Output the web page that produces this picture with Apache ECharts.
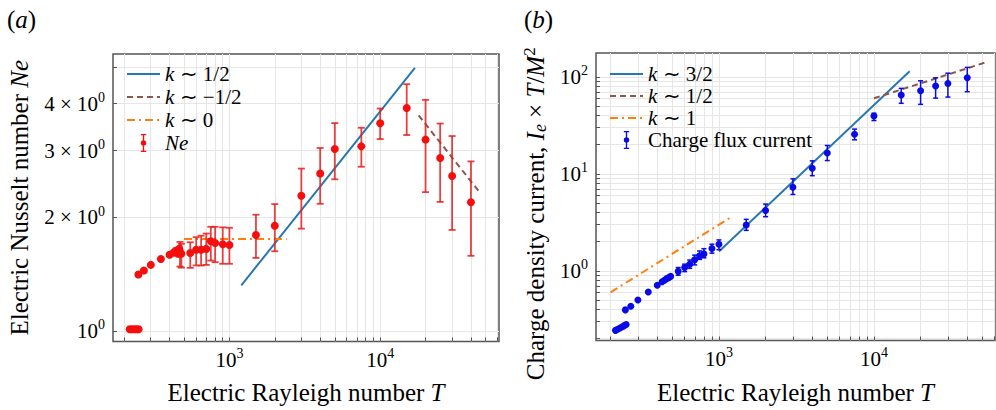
<!DOCTYPE html>
<html><head><meta charset="utf-8">
<script src="https://cdn.jsdelivr.net/npm/echarts@6/dist/echarts.min.js"></script>
<style>html,body{margin:0;padding:0;background:#fff}#c{width:996px;height:410px}</style>
</head><body><div id="c"></div>
<script>
// ---------------- data ----------------
// (a) Electric Nusselt number
const leftPlainT  = [218, 226, 234, 242, 250, 249, 271, 301, 351, 401, 425, 440, 455, 465];
const leftPlainNe = [1.01, 1.01, 1.01, 1.01, 1.01, 1.41, 1.445, 1.495, 1.55, 1.59, 1.61, 1.63, 1.60, 1.65];
const leftErrT  = [470, 480, 550, 602, 649, 702, 753, 804, 903, 1000, 1500, 2000, 3000, 4000, 5000, 7500, 10000, 15000, 20000, 25000, 30000, 40000];
const leftErrNe = [1.62, 1.60, 1.608, 1.64, 1.64, 1.648, 1.727, 1.709, 1.695, 1.688, 1.794, 1.898, 2.28, 2.61, 3.03, 3.08, 3.545, 3.89, 3.21, 2.87, 2.57, 2.19];
const leftErrLo = [1.48, 1.47, 1.468, 1.49, 1.489, 1.495, 1.535, 1.52, 1.505, 1.505, 1.56, 1.625, 1.865, 2.17, 2.52, 2.72, 3.22, 3.30, 2.33, 2.195, 1.85, 1.58];
const leftErrHi = [1.72, 1.70, 1.716, 1.77, 1.786, 1.81, 1.886, 1.886, 1.88, 1.875, 2.03, 2.166, 2.69, 3.05, 3.55, 3.45, 3.88, 4.50, 4.09, 3.54, 3.28, 2.81];
const leftFitHalfT  = [1200, 17000];  const leftFitHalfY  = [1.32, 4.97];   // k ~ 1/2
const leftFitNegT   = [18000, 46000]; const leftFitNegY   = [3.72, 2.32];   // k ~ -1/2
const leftFitZeroT  = [500, 2400];    const leftFitZeroY  = [1.75, 1.75];   // k ~ 0
const leftLegend = ['{it|k}{b| ∼ 1/2}', '{it|k}{b| ∼ −1/2}', '{it|k}{b| ∼ 0}', '{it|Ne}'];
const leftYTickVals = [1, 2, 3, 4];
const leftYTickLabels = ['{b|10}{sup|0}', '{b|2 × 10}{sup|0}', '{b|3 × 10}{sup|0}', '{b|4 × 10}{sup|0}'];
const leftYGrid = [1, 2, 3, 4, 5];

// (b) Charge density current
const rightPlainT = [215, 222, 230, 238, 245, 252, 249, 270, 300, 350, 400, 430, 445, 460, 475, 488];
const rightPlainI = [0.243, 0.25, 0.257, 0.265, 0.272, 0.279, 0.395, 0.431, 0.50, 0.605, 0.708, 0.77, 0.80, 0.83, 0.85, 0.875];
const rightErrT  = [546, 601, 648, 697, 750, 800, 901, 1000, 1500, 2000, 3000, 4000, 5000, 7500, 10000, 15000, 20000, 25000, 30000, 40000];
const rightErrI  = [0.986, 1.083, 1.17, 1.296, 1.425, 1.494, 1.70, 1.88, 2.96, 4.19, 7.27, 11.4, 16.4, 25.6, 39.5, 64.9, 71.8, 80.3, 85.5, 97.7];
const rightErrLo = [0.90, 0.98, 1.06, 1.15, 1.31, 1.36, 1.52, 1.65, 2.61, 3.61, 6.12, 9.56, 13.7, 22.4, 35.4, 53.3, 52, 60.3, 61.8, 70.2];
const rightErrHi = [1.08, 1.17, 1.29, 1.45, 1.60, 1.69, 1.88, 2.08, 3.39, 4.87, 8.87, 13.6, 19.6, 28.9, 42.1, 76, 91, 97.7, 109, 125];
const rightFit32T = [1000, 17000];  const rightFit32Y = [1.58, 114];   // k ~ 3/2
const rightFit12T = [10000, 52000]; const rightFit12Y = [60, 140];     // k ~ 1/2
const rightFit1T  = [200, 1200];    const rightFit1Y  = [0.6, 3.58];   // k ~ 1
const rightLegend = ['{it|k}{b| ∼ 3/2}', '{it|k}{b| ∼ 1/2}', '{it|k}{b| ∼ 1}', '{b|Charge flux current}'];
const rightYTickVals = [1, 10, 100];
const rightYGrid = [0.2,0.3,0.4,0.5,0.6,0.7,0.8,0.9,1,2,3,4,5,6,7,8,9,10,20,30,40,50,60,70,80,90,100];

const xTickVals = [1000, 10000];
const xGrid = [200,300,400,500,600,700,800,900,1000,2000,3000,4000,5000,6000,7000,8000,9000,10000,20000,30000,40000,50000,60000];

// ---------------- styling ----------------
const FF = 'Liberation Serif';
const C_BLUE = '#2878b0', C_BROWN = '#8c564b', C_ORANGE = '#ff7f0e';
const C_RED = '#f40e0e', C_REDBAR = 'rgba(232,30,30,0.85)', C_PBLUE = '#0a0ae6';
const GRIDC = '#e6e6e6';
const DASH = [6, 4], DASHDOT = [8, 4, 2, 4];

function richFor(size, lh) {
  return {
    b: {fontFamily: FF, fontSize: size, lineHeight: lh, color: '#000'},
    sup: {fontFamily: FF, fontSize: Math.round(size * 0.68), lineHeight: 12, verticalAlign: 'top', color: '#000'},
    sub: {fontFamily: FF, fontStyle: 'italic', fontSize: Math.round(size * 0.7), lineHeight: 12, verticalAlign: 'bottom', color: '#000'},
    it: {fontFamily: FF, fontStyle: 'italic', fontSize: size, lineHeight: lh, color: '#000'}
  };
}
function powLabel(v) {
  const l = Math.log10(v), r = Math.round(l);
  if (Math.abs(l - r) > 1e-6) return '';
  return '{b|10}{sup|' + r + '}';
}
function leftYLabel(v) {
  const k = leftYTickVals.findIndex(t => Math.abs(t - v) < 1e-6);
  return k >= 0 ? leftYTickLabels[k] : '';
}
function pairs(xs, ys) { return xs.map((x, i) => [x, ys[i]]); }
function triples(xs, lo, hi) { return xs.map((x, i) => [x, lo[i], hi[i]]); }

function errRenderer(cap, width, color) {
  return function (params, api) {
    const x = api.value(0), lo = api.value(1), hi = api.value(2);
    const a = api.coord([x, hi]), b = api.coord([x, lo]);
    const st = {stroke: color, lineWidth: width};
    return {type: 'group', children: [
      {type: 'line', shape: {x1: a[0], y1: a[1], x2: b[0], y2: b[1]}, style: st},
      {type: 'line', shape: {x1: a[0] - cap, y1: a[1], x2: a[0] + cap, y2: a[1]}, style: st},
      {type: 'line', shape: {x1: b[0] - cap, y1: b[1], x2: b[0] + cap, y2: b[1]}, style: st}
    ]};
  };
}
const errIcon = 'path://M2,0H8V1.5H5.75V18.5H8V20H2V18.5H4.25V1.5H2Z M5,7A3,3 0 1,1 5,13A3,3 0 1,1 5,7Z';

function gridLines(xi, yVals) {
  const data = xGrid.map(v => ({xAxis: v})).concat(yVals.map(v => ({yAxis: v})));
  return {
    type: 'line', name: 'grid' + xi, data: [], xAxisIndex: xi, yAxisIndex: xi, z: 0, silent: true,
    markLine: {
      silent: true, symbol: 'none', animation: false, z: 0,
      lineStyle: {color: GRIDC, width: 1, type: 'solid'},
      label: {show: false}, emphasis: {disabled: true},
      data: data
    }
  };
}
function fitLine(name, xi, xs, ys, color, type) {
  return {type: 'line', name: name, xAxisIndex: xi, yAxisIndex: xi, data: pairs(xs, ys), symbol: 'none', z: 2,
    lineStyle: {color: color, width: 2, type: type}, itemStyle: {color: color}, silent: true};
}
const hideSym = {opacity: 0, color: 'rgba(0,0,0,0)', borderWidth: 0};

const axisName = {color: '#000', fontFamily: FF, fontSize: 25, rich: richFor(25, 28)};
const tickLabel = {color: '#000', fontFamily: FF, fontSize: 21, lineHeight: 26, rich: richFor(21, 26)};
const tickStyle = {inside: true, length: 4, lineStyle: {color: '#555', width: 1}};

const option = {
  animation: false,
  backgroundColor: '#fff',
  title: [
    {text: '{b|(}{it|a}{b|)}', left: 7, top: 5, padding: 0, textStyle: {fontFamily: FF, fontSize: 25, fontWeight: 'normal', color: '#000', rich: richFor(25, 28)}},
    {text: '{b|(}{it|b}{b|)}', left: 524, top: 5, padding: 0, textStyle: {fontFamily: FF, fontSize: 25, fontWeight: 'normal', color: '#000', rich: richFor(25, 28)}}
  ],
  grid: [
    {left: 113, right: 497, top: 54, bottom: 67, show: true, borderColor: '#555', borderWidth: 1.5, backgroundColor: 'transparent'},
    {left: 596, right: 1, top: 53, bottom: 68, show: true, borderColor: '#555', borderWidth: 1.5, backgroundColor: 'transparent'}
  ],
  xAxis: [
    {type: 'log', gridIndex: 0, min: 169, max: 61400, logBase: 10,
      axisLine: {show: false}, splitLine: {show: false},
      axisTick: Object.assign({customValues: xGrid}, tickStyle),
      axisLabel: Object.assign({customValues: xTickVals, formatter: powLabel, margin: 5}, tickLabel),
      name: '{b|Electric Rayleigh number }{it|T}', nameLocation: 'middle', nameGap: 37, nameTextStyle: axisName},
    {type: 'log', gridIndex: 1, min: 161, max: 60400, logBase: 10,
      axisLine: {show: false}, splitLine: {show: false},
      axisTick: Object.assign({customValues: xGrid}, tickStyle),
      axisLabel: Object.assign({customValues: xTickVals, formatter: powLabel, margin: 5}, tickLabel),
      name: '{b|Electric Rayleigh number }{it|T}', nameLocation: 'middle', nameGap: 38, nameTextStyle: axisName}
  ],
  yAxis: [
    {type: 'log', gridIndex: 0, min: 0.937, max: 5.41, logBase: 10,
      axisLine: {show: false}, splitLine: {show: false},
      axisTick: Object.assign({customValues: leftYGrid}, tickStyle),
      axisLabel: Object.assign({customValues: leftYTickVals, formatter: leftYLabel, margin: 8}, tickLabel),
      name: '{b|Electric Nusselt number }{it|Ne}', nameLocation: 'middle', nameRotate: 90, nameGap: 80, nameTextStyle: axisName},
    {type: 'log', gridIndex: 1, min: 0.191, max: 176, logBase: 10,
      axisLine: {show: false}, splitLine: {show: false},
      axisTick: Object.assign({customValues: rightYGrid}, tickStyle),
      axisLabel: Object.assign({customValues: rightYTickVals, formatter: powLabel, margin: 8}, tickLabel),
      name: '{b|Charge density current, }{it|I}{sub|e}{b| × }{it|T}{b|/}{it|M}{sup|2}', nameLocation: 'middle', nameRotate: 90, nameGap: 47,
      nameTextStyle: Object.assign({padding: [0, 34, 0, 0]}, axisName)}
  ],
  legend: [
    {data: [{name: 'a1', itemStyle: hideSym}, {name: 'a2', itemStyle: hideSym}, {name: 'a3', itemStyle: hideSym}, {name: 'aNe', icon: errIcon}],
      orient: 'vertical', left: 126, top: 63, itemWidth: 33, itemHeight: 18, itemGap: 1, padding: 0,
      selectedMode: false, symbolKeepAspect: true,
      formatter: n => leftLegend[['a1', 'a2', 'a3', 'aNe'].indexOf(n)],
      textStyle: {fontFamily: FF, fontSize: 21, lineHeight: 22, color: '#000', rich: richFor(21, 22)}},
    {data: [{name: 'b1', itemStyle: hideSym}, {name: 'b2', itemStyle: hideSym}, {name: 'b3', itemStyle: hideSym}, {name: 'bI', icon: errIcon}],
      orient: 'vertical', left: 609, top: 63, itemWidth: 33, itemHeight: 18, itemGap: 0, padding: 0,
      selectedMode: false, symbolKeepAspect: true,
      formatter: n => rightLegend[['b1', 'b2', 'b3', 'bI'].indexOf(n)],
      textStyle: {fontFamily: FF, fontSize: 21, lineHeight: 22, color: '#000', rich: richFor(21, 22)}}
  ],
  series: [
    gridLines(0, leftYGrid),
    gridLines(1, rightYGrid),
    fitLine('a1', 0, leftFitHalfT, leftFitHalfY, C_BLUE, 'solid'),
    fitLine('a2', 0, leftFitNegT, leftFitNegY, C_BROWN, DASH),
    fitLine('a3', 0, leftFitZeroT, leftFitZeroY, C_ORANGE, DASHDOT),
    {type: 'custom', name: 'aNe', xAxisIndex: 0, yAxisIndex: 0, z: 3, silent: true,
      itemStyle: {color: C_RED}, encode: {x: 0, y: [1, 2]},
      renderItem: errRenderer(3.5, 1.8, C_REDBAR), data: triples(leftErrT, leftErrLo, leftErrHi)},
    {type: 'scatter', name: 'aNe', xAxisIndex: 0, yAxisIndex: 0, z: 4, silent: true,
      symbol: 'circle', symbolSize: 8, itemStyle: {color: C_RED, opacity: 1},
      data: pairs(leftPlainT, leftPlainNe).concat(pairs(leftErrT, leftErrNe))},
    fitLine('b1', 1, rightFit32T, rightFit32Y, C_BLUE, 'solid'),
    fitLine('b2', 1, rightFit12T, rightFit12Y, C_BROWN, DASH),
    fitLine('b3', 1, rightFit1T, rightFit1Y, C_ORANGE, DASHDOT),
    {type: 'custom', name: 'bI', xAxisIndex: 1, yAxisIndex: 1, z: 3, silent: true,
      itemStyle: {color: C_PBLUE}, encode: {x: 0, y: [1, 2]},
      renderItem: errRenderer(2.5, 1.5, C_PBLUE), data: triples(rightErrT, rightErrLo, rightErrHi)},
    {type: 'scatter', name: 'bI', xAxisIndex: 1, yAxisIndex: 1, z: 4, silent: true,
      symbol: 'circle', symbolSize: 7, itemStyle: {color: C_PBLUE, opacity: 1},
      data: pairs(rightPlainT, rightPlainI).concat(pairs(rightErrT, rightErrI))}
  ]
};
const chart = echarts.init(document.getElementById('c'), null, {renderer: 'svg'});
chart.setOption(option);
</script>
</body></html>
